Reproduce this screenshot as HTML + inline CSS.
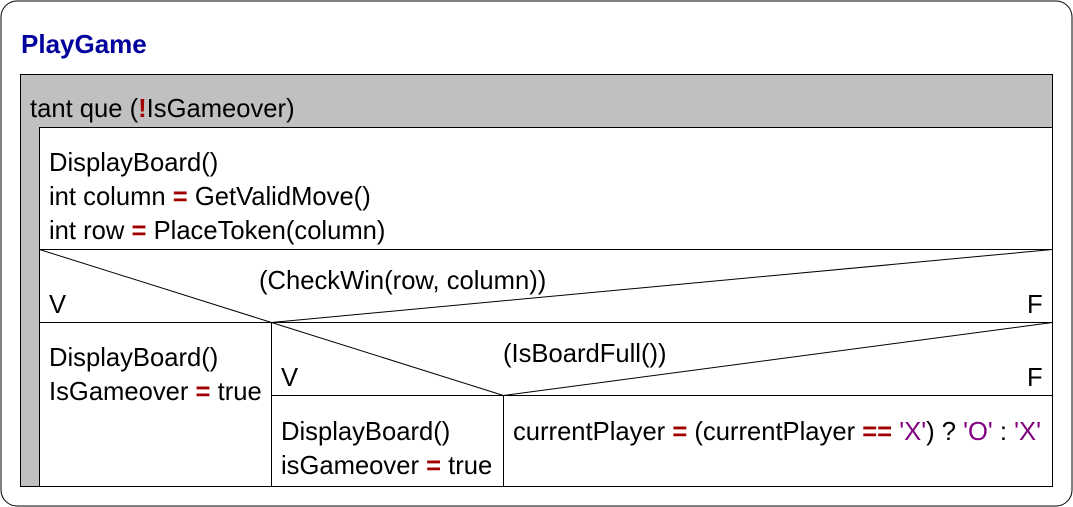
<!DOCTYPE html>
<html><head><meta charset="utf-8"><style>
html,body{margin:0;padding:0;background:#fff;}
svg{display:block;}
text{font-family:"Liberation Sans",Arial,sans-serif;font-size:25.6px;fill:#000;}
.op{fill:#a00000;font-weight:bold;}
.st{fill:#800080;}
</style></head><body>
<svg width="1073" height="507" viewBox="0 0 1073 507" xmlns="http://www.w3.org/2000/svg">
<rect x="1" y="1" width="1071" height="505" rx="16" ry="16" fill="#fff" stroke="#000" stroke-width="1"/>
<text x="21" y="53" style="font-weight:bold;font-size:26px;fill:#00009c">PlayGame</text>
<rect x="20.5" y="74.5" width="1032" height="412" fill="#c0c0c0" stroke="#000"/>
<text x="30" y="117">tant que (<tspan class="op">!</tspan>IsGameover)</text>
<rect x="39.5" y="127.5" width="1013" height="359" fill="#fff" stroke="#000"/>
<text x="49" y="171">DisplayBoard()</text>
<text x="49" y="205">int column <tspan class="op">=</tspan> GetValidMove()</text>
<text x="49" y="239">int row <tspan class="op">=</tspan> PlaceToken(column)</text>
<g stroke="#000" stroke-width="1" fill="none">
<line x1="39.5" y1="249.5" x2="1052.5" y2="249.5"/>
<line x1="39.5" y1="249.5" x2="271.5" y2="322.5"/>
<line x1="1052.5" y1="249.5" x2="271.5" y2="322.5"/>
<line x1="39.5" y1="322.5" x2="1052.5" y2="322.5"/>
<line x1="271.5" y1="322.5" x2="271.5" y2="486.5"/>
<line x1="271.5" y1="322.5" x2="503.5" y2="395.5"/>
<line x1="1052.5" y1="322.5" x2="503.5" y2="395.5"/>
<line x1="271.5" y1="395.5" x2="1052.5" y2="395.5"/>
<line x1="503.5" y1="395.5" x2="503.5" y2="486.5"/>
</g>
<text x="259" y="289">(CheckWin(row, column))</text>
<text x="49" y="313">V</text>
<text x="1027" y="313">F</text>
<text x="49" y="366">DisplayBoard()</text>
<text x="49" y="400">IsGameover <tspan class="op">=</tspan> true</text>
<text x="503" y="362">(IsBoardFull())</text>
<text x="281" y="386">V</text>
<text x="1027" y="386">F</text>
<text x="281" y="440">DisplayBoard()</text>
<text x="281" y="474">isGameover <tspan class="op">=</tspan> true</text>
<text x="513" y="440">currentPlayer <tspan class="op">=</tspan> (currentPlayer <tspan class="op">==</tspan> <tspan class="st">'X'</tspan>) ? <tspan class="st">'O'</tspan> : <tspan class="st">'X'</tspan></text>
</svg>
</body></html>
